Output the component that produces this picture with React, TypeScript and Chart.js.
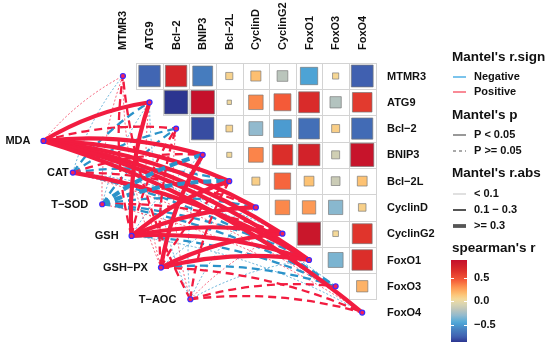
import React, { useEffect, useRef } from 'react';
import { Chart, registerables } from 'chart.js';
Chart.register(...registerables);

// ---------- data ----------
const speciesLabels = ['MTMR3', 'ATG9', 'Bcl−2', 'BNIP3', 'Bcl−2L', 'CyclinD', 'CyclinG2', 'FoxO1', 'FoxO3', 'FoxO4'];
const envLabels = ['MDA', 'CAT', 'T−SOD', 'GSH', 'GSH−PX', 'T−AOC'];

// spearman's r, strict upper triangle (row i holds columns i+1..9)
const corrMTMR3 = [-0.72, 0.72, -0.62, 0.08, 0.16, -0.18, -0.47, 0.06, -0.75];
const corrATG9 = [-0.86, 0.86, 0.03, 0.33, 0.45, 0.68, -0.2, 0.6];
const corrBcl2 = [-0.8, 0.07, -0.3, -0.5, -0.68, 0.1, -0.7];
const corrBNIP3 = [0.04, 0.34, 0.66, 0.74, -0.1, 0.84];
const corrBcl2L = [0.1, 0.42, 0.15, -0.12, 0.15];
const corrCyclinD = [0.33, 0.28, -0.32, 0.09];
const corrCyclinG2 = [0.82, 0.05, 0.62];
const corrFoxO1 = [-0.35, 0.66];
const corrFoxO3 = [0.2];
const corrRows = [corrMTMR3, corrATG9, corrBcl2, corrBNIP3, corrBcl2L, corrCyclinD, corrCyclinG2, corrFoxO1, corrFoxO3];

// Mantel's r and p (env x species)
const mantelR_MDA = [0.05, 0.42, 0.18, 0.45, 0.38, 0.4, 0.47, 0.52, -0.06, 0.36];
const mantelP_MDA = [0.42, 0.001, 0.08, 0.001, 0.002, 0.001, 0.001, 0.001, 0.55, 0.003];
const mantelR_CAT = [-0.04, -0.15, -0.18, 0.14, -0.16, 0.12, -0.05, 0.33, -0.17, 0.06];
const mantelP_CAT = [0.6, 0.12, 0.09, 0.15, 0.11, 0.2, 0.5, 0.01, 0.1, 0.45];
const mantelR_TSOD = [0.03, -0.06, -0.16, -0.32, -0.31, -0.2, 0.15, -0.19, -0.2, 0.04];
const mantelP_TSOD = [0.7, 0.5, 0.1, 0.06, 0.07, 0.09, 0.13, 0.08, 0.09, 0.65];
const mantelR_GSH = [0.15, 0.36, 0.17, -0.05, 0.34, 0.41, 0.48, 0.5, -0.18, -0.06];
const mantelP_GSH = [0.1, 0.004, 0.09, 0.5, 0.01, 0.001, 0.001, 0.001, 0.07, 0.5];
const mantelR_GSHPX = [0.05, 0.08, 0.15, 0.39, 0.16, -0.06, 0.44, 0.49, -0.22, 0.14];
const mantelP_GSHPX = [0.5, 0.4, 0.1, 0.003, 0.09, 0.5, 0.002, 0.001, 0.06, 0.12];
const mantelR_TAOC = [0.17, -0.05, 0.06, -0.04, 0.15, -0.06, 0.05, -0.07, 0.19, 0.21];
const mantelP_TAOC = [0.11, 0.6, 0.5, 0.7, 0.1, 0.5, 0.55, 0.45, 0.08, 0.07];
const mantelR = [mantelR_MDA, mantelR_CAT, mantelR_TSOD, mantelR_GSH, mantelR_GSHPX, mantelR_TAOC];
const mantelP = [mantelP_MDA, mantelP_CAT, mantelP_TSOD, mantelP_GSH, mantelP_GSHPX, mantelP_TAOC];

const colorbarTicks = [0.5, 0.0, -0.5];
const colorMin = -0.86;
const colorMax = 0.87;

// ---------- style / layout ----------
const W = 550, H = 345;
const UNIT = 27.1, OX = 120, OY = 73;
const ENV_X0 = -2.99, ENV_Y0 = 2.47, ENV_DX = 1.105, ENV_DY = 1.205;
const labelGap = [13, 4, 14, 13, 13, 14];
const FONT = "'Liberation Sans', Arial, Helvetica, sans-serif";
const RED = '#f21c40';
const BLUE = '#2a92c9';

const palV = [-0.86, -0.75, -0.6, -0.45, -0.3, -0.15, -0.05, 0.05, 0.15, 0.3, 0.45, 0.65, 0.87];
const palC = ['#2c3590', '#4060b0', '#4780c0', '#4ea8d8', '#92bace', '#c4c8b8', '#dcd6b0', '#f5d998', '#fdc273', '#fd9350', '#f45a38', '#dc2f2a', '#c4102b'];

function hex(c: string) {
  return [parseInt(c.slice(1, 3), 16), parseInt(c.slice(3, 5), 16), parseInt(c.slice(5, 7), 16)];
}
function colorFor(v: number) {
  if (v <= palV[0]) return palC[0];
  if (v >= palV[palV.length - 1]) return palC[palC.length - 1];
  for (let i = 0; i < palV.length - 1; i++) {
    if (v >= palV[i] && v <= palV[i + 1]) {
      const t = (v - palV[i]) / (palV[i + 1] - palV[i]);
      const a = hex(palC[i]), b = hex(palC[i + 1]);
      const m = a.map((q, k) => Math.round(q + (b[k] - q) * t));
      return `rgb(${m[0]},${m[1]},${m[2]})`;
    }
  }
  return '#fff';
}

const envPos = envLabels.map((_, e) => ({ x: ENV_X0 + ENV_DX * e, y: ENV_Y0 + ENV_DY * e }));

const squarePoints: any[] = [];
corrRows.forEach((row, i) => row.forEach((v, k) => squarePoints.push({ x: i + 1 + k, y: i, v })));
const nodePoints = [
  ...envPos.map((p) => ({ x: p.x, y: p.y })),
  ...speciesLabels.map((_, i) => ({ x: i, y: i })),
];

const gridLinksPlugin = {
  id: 'gridLinks',
  beforeDatasetsDraw(chart: any) {
    const { ctx, scales } = chart;
    const sx = scales.x, sy = scales.y;
    ctx.save();
    // grid cells
    ctx.lineWidth = 1;
    ctx.strokeStyle = '#d3d3d3';
    ctx.fillStyle = '#ffffff';
    corrRows.forEach((row, i) =>
      row.forEach((_, k) => {
        const j = i + 1 + k;
        const x0 = Math.round(sx.getPixelForValue(j - 0.5)) + 0.5;
        const x1 = Math.round(sx.getPixelForValue(j + 0.5)) + 0.5;
        const y0 = Math.round(sy.getPixelForValue(i - 0.5)) + 0.5;
        const y1 = Math.round(sy.getPixelForValue(i + 0.5)) + 0.5;
        ctx.fillRect(x0, y0, x1 - x0, y1 - y0);
        ctx.strokeRect(x0, y0, x1 - x0, y1 - y0);
      })
    );
    // mantel links
    const links: any[] = [];
    mantelR.forEach((rs, e) =>
      rs.forEach((r, s) => {
        const a = Math.abs(r);
        const cls = a < 0.1 ? 0 : a < 0.3 ? 1 : 2;
        links.push({ e, s, r, p: mantelP[e][s], cls });
      })
    );
    links.sort((a, b) => a.cls - b.cls);
    links.forEach((l) => {
      const x0 = sx.getPixelForValue(envPos[l.e].x), y0 = sy.getPixelForValue(envPos[l.e].y);
      const x1 = sx.getPixelForValue(l.s), y1 = sy.getPixelForValue(l.s);
      const dx = x1 - x0, dy = y1 - y0;
      const c = 0.1;
      const cx = (x0 + x1) / 2 + c * dy, cy = (y0 + y1) / 2 - c * dx;
      ctx.beginPath();
      ctx.moveTo(x0, y0);
      ctx.quadraticCurveTo(cx, cy, x1, y1);
      ctx.strokeStyle = l.r >= 0 ? RED : BLUE;
      const w = l.cls === 0 ? 0.7 : l.cls === 1 ? 2.3 : 4.2;
      ctx.lineWidth = w;
      if (l.p >= 0.05) ctx.setLineDash(l.cls === 0 ? [2, 2] : [8, 5]);
      else ctx.setLineDash([]);
      ctx.lineCap = 'butt';
      ctx.stroke();
    });
    ctx.setLineDash([]);
    ctx.restore();
  },
};

const textPlugin = {
  id: 'texts',
  afterDraw(chart: any) {
    const { ctx, scales } = chart;
    const sx = scales.x, sy = scales.y;
    ctx.save();
    ctx.fillStyle = '#111';
    ctx.font = `bold 11px ${FONT}`;
    // column labels (rotated)
    speciesLabels.forEach((lab, i) => {
      ctx.save();
      ctx.translate(sx.getPixelForValue(i) + 0.5, 50);
      ctx.rotate(-Math.PI / 2);
      ctx.textAlign = 'left';
      ctx.textBaseline = 'middle';
      ctx.fillText(lab, 0, 0);
      ctx.restore();
    });
    // row labels
    ctx.textAlign = 'left';
    ctx.textBaseline = 'middle';
    speciesLabels.forEach((lab, i) => {
      ctx.fillText(lab, 387, sy.getPixelForValue(i) + 0.5);
    });
    // env labels
    ctx.textAlign = 'right';
    envLabels.forEach((lab, e) => {
      ctx.fillText(lab, sx.getPixelForValue(envPos[e].x) - labelGap[e], sy.getPixelForValue(envPos[e].y) + 0.5);
    });

    // legend
    const LX = 452, TX = 474;
    ctx.textAlign = 'left';
    ctx.textBaseline = 'middle';
    const title = (t: string, y: number) => {
      ctx.font = `bold 13.5px ${FONT}`;
      ctx.fillStyle = '#111';
      ctx.fillText(t, LX, y);
    };
    const item = (t: string, y: number) => {
      ctx.font = `bold 11px ${FONT}`;
      ctx.fillStyle = '#111';
      ctx.fillText(t, TX, y);
    };
    const seg = (y: number, color: string, w: number, dash: number[]) => {
      ctx.beginPath();
      ctx.setLineDash(dash);
      ctx.strokeStyle = color;
      ctx.lineWidth = w;
      ctx.moveTo(453, y);
      ctx.lineTo(466, y);
      ctx.stroke();
      ctx.setLineDash([]);
    };
    title("Mantel's r.sign", 57);
    seg(77, '#4fb0e6', 1.5, []);
    item('Negative', 77);
    seg(92, '#f53b4f', 1.2, []);
    item('Positive', 92);
    title("Mantel's p", 115);
    seg(135, '#555', 1.2, []);
    item('P < 0.05', 135);
    seg(151, '#555', 1.2, [3, 3]);
    item('P >= 0.05', 151);
    title("Mantel's r.abs", 173);
    seg(194, '#a8a8a8', 0.7, []);
    item('< 0.1', 194);
    seg(210, '#555', 2, []);
    item('0.1 − 0.3', 210);
    seg(226, '#555', 3.8, []);
    item('>= 0.3', 226);
    title("spearman's r", 248);

    // colorbar
    const cbTop = 260, cbBot = 342, cbL = 451, cbR = 467;
    const vy = (v: number) => cbTop + ((colorMax - v) / (colorMax - colorMin)) * (cbBot - cbTop);
    const grad = ctx.createLinearGradient(0, cbTop, 0, cbBot);
    for (let k = 0; k <= 40; k++) {
      const v = colorMax - (k / 40) * (colorMax - colorMin);
      grad.addColorStop(k / 40, colorFor(v));
    }
    ctx.fillStyle = grad;
    ctx.fillRect(cbL, cbTop, cbR - cbL, cbBot - cbTop);
    ctx.strokeStyle = '#ffffff';
    ctx.lineWidth = 1;
    colorbarTicks.forEach((t) => {
      const y = Math.round(vy(t)) + 0.5;
      ctx.beginPath();
      ctx.moveTo(cbL, y); ctx.lineTo(cbL + 3, y);
      ctx.moveTo(cbR - 3, y); ctx.lineTo(cbR, y);
      ctx.stroke();
      ctx.font = `bold 11px ${FONT}`;
      ctx.fillStyle = '#111';
      const s = t.toFixed(1).replace('-', '−');
      ctx.fillText(s, TX, vy(t));
    });
    ctx.restore();
  },
};

export default function App() {
  const ref = useRef<HTMLCanvasElement>(null);
  useEffect(() => {
    const canvas = ref.current!;
    const chart = new Chart(canvas, {
      type: 'scatter',
      data: {
        datasets: [
          {
            label: 'nodes',
            data: nodePoints,
            pointStyle: 'circle',
            pointRadius: 2.5,
            backgroundColor: '#f0205a',
            borderColor: '#3a2cff',
            borderWidth: 1.2,
          } as any,
          {
            label: 'corr',
            data: squarePoints,
            pointStyle: 'rect',
            pointRadius: (ctx: any) => {
              const sx = ctx.chart.scales.x;
              const unitPx = Math.abs(sx.getPixelForValue(1) - sx.getPixelForValue(0));
              const v = ctx.raw ? ctx.raw.v : 0;
              const side = unitPx * 0.95 * Math.sqrt(Math.abs(v));
              return side / Math.SQRT2;
            },
            backgroundColor: (ctx: any) => colorFor(ctx.raw ? ctx.raw.v : 0),
            borderColor: 'rgba(120,120,120,0.85)',
            borderWidth: 0.8,
          } as any,
        ],
      },
      options: {
        responsive: false,
        animation: false,
        events: [],
        layout: { padding: 0 },
        plugins: { legend: { display: false }, tooltip: { enabled: false }, title: { display: false } },
        scales: {
          x: { type: 'linear', display: false, min: -OX / UNIT, max: (W - OX) / UNIT },
          y: { type: 'linear', display: false, reverse: true, min: -OY / UNIT, max: (H - OY) / UNIT },
        },
      },
      plugins: [gridLinksPlugin, textPlugin],
    });
    return () => chart.destroy();
  }, []);
  return (
    <div style={{ position: 'fixed', left: 0, top: 0, width: W, height: H, background: '#fff' }}>
      <canvas ref={ref} width={W} height={H} style={{ display: 'block' }} />
    </div>
  );
}
